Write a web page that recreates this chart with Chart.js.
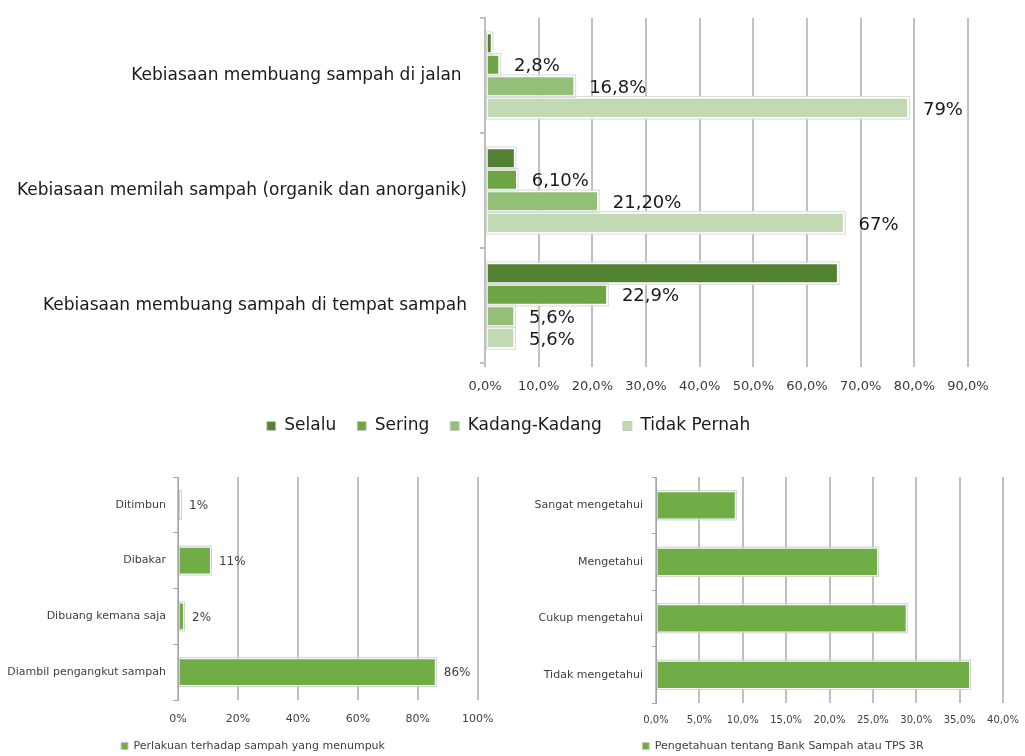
<!DOCTYPE html>
<html lang="id">
<head>
    <meta charset="UTF-8">
    <title>Kebiasaan dan Pengetahuan tentang Sampah</title>
    <script src="https://cdn.jsdelivr.net/npm/chart.js"></script>
    <style>
        body {
            margin: 0;
            background: #fff;
            width: 1025px;
            height: 756px;
            overflow: hidden;
            position: relative;
        }
        canvas {
            position: absolute;
        }
        #habitChart { left: 0; top: 0; }
        #pileChart { left: 0; top: 470px; }
        #knowChart { left: 500px; top: 470px; }
    </style>
</head>
<body>

    <canvas id="habitChart" width="1017" height="460"></canvas>
    <canvas id="pileChart" width="506" height="300"></canvas>
    <canvas id="knowChart" width="566" height="300"></canvas>

    <script>
        // top chart: kebiasaan
        const habitCats = [
            'Kebiasaan membuang sampah di jalan ',
            'Kebiasaan memilah sampah (organik dan anorganik)',
            'Kebiasaan membuang sampah di tempat sampah'
        ];
        const selalu = [1.4, 5.7, 65.9];
        const sering = [2.8, 6.1, 22.9];
        const kadang = [16.8, 21.2, 5.6];
        const tidakPernah = [79, 67, 5.6];
        const seringLbl = ['2,8%', '6,10%', '22,9%'];
        const kadangLbl = ['16,8%', '21,20%', '5,6%'];
        const tidakLbl = ['79%', '67%', '5,6%'];
        const habitTicks = ['0,0%', '10,0%', '20,0%', '30,0%', '40,0%', '50,0%', '60,0%', '70,0%', '80,0%', '90,0%'];

        // bottom left: perlakuan terhadap sampah yang menumpuk
        const pileCats = ['Ditimbun', 'Dibakar', 'Dibuang kemana saja', 'Diambil pengangkut sampah'];
        const pileVals = [1, 11, 2, 86];
        const pileLbl = ['1%', '11%', '2%', '86%'];
        const pileTicks = ['0%', '20%', '40%', '60%', '80%', '100%'];

        // bottom right: pengetahuan tentang bank sampah
        const knowCats = ['Sangat mengetahui', 'Mengetahui', 'Cukup mengetahui', 'Tidak mengetahui'];
        const knowVals = [9.2, 25.6, 28.9, 36.2];
        const knowTicks = ['0,0%', '5,0%', '10,0%', '15,0%', '20,0%', '25,0%', '30,0%', '35,0%', '40,0%'];

        Chart.defaults.font.family = '"DejaVu Sans", Verdana, sans-serif';

        // thin grey frame round each bar + value labels next to the bar ends
        const barLabels = {
            id: 'barLabels',
            afterDatasetsDraw(chart, args, opts) {
                const ctx = chart.ctx;
                ctx.save();
                ctx.strokeStyle = opts.outline || '#d6d6d6';
                ctx.lineWidth = 1;
                chart.data.datasets.forEach((ds, i) => {
                    chart.getDatasetMeta(i).data.forEach(bar => {
                        const { x, y, base, height } = bar.getProps(['x', 'y', 'base', 'height'], true);
                        ctx.strokeRect(base + 0.5, y - height / 2 - 0.5, x - base, height + 1);
                    });
                });
                ctx.font = opts.font;
                ctx.fillStyle = opts.color;
                ctx.textAlign = 'left';
                ctx.textBaseline = 'middle';
                chart.data.datasets.forEach((ds, i) => {
                    if (!ds.valueLabels) return;
                    chart.getDatasetMeta(i).data.forEach((bar, j) => {
                        ctx.fillText(ds.valueLabels[j], bar.x + opts.offset, bar.y + opts.dy);
                    });
                });
                ctx.restore();
            }
        };

        function legendItems(ch) {
            return Chart.defaults.plugins.legend.labels.generateLabels(ch)
                .map(it => Object.assign(it, { strokeStyle: '#c8c8c8', lineWidth: 1 }));
        }

        // fixed axis width, no extra label padding above/below
        function fixWidth(w) {
            return s => { s.width = w; s.paddingTop = 0; s.paddingBottom = 0; };
        }

        // empty axis on the right, only keeps space so the legend sits centred like the original
        function spacer(w) {
            return {
                position: 'right',
                ticks: { display: false },
                grid: { display: false },
                border: { display: false },
                afterFit: fixWidth(w)
            };
        }

        new Chart(document.getElementById('habitChart'), {
            type: 'bar',
            data: {
                labels: habitCats,
                datasets: [
                    { label: 'Selalu', data: selalu, backgroundColor: '#548235' },
                    { label: 'Sering', data: sering, backgroundColor: '#6ca544', valueLabels: seringLbl },
                    { label: 'Kadang-Kadang', data: kadang, backgroundColor: '#93bf78', valueLabels: kadangLbl },
                    { label: 'Tidak Pernah', data: tidakPernah, backgroundColor: '#c1d9b5', valueLabels: tidakLbl }
                ]
            },
            options: {
                indexAxis: 'y',
                responsive: false,
                animation: false,
                datasets: {
                    bar: { borderColor: '#fff', borderWidth: 1.75, borderSkipped: false, categoryPercentage: 0.75, barPercentage: 1 }
                },
                layout: { padding: { top: 18, right: 0, bottom: 15.5, left: 0 } },
                scales: {
                    x: {
                        min: 0, max: 90,
                        ticks: { stepSize: 10, callback: (v, i) => habitTicks[i], color: '#3a3a3a', font: { size: 13 }, padding: 12, maxRotation: 0 },
                        grid: { color: '#c0c0c0', lineWidth: 2, tickLength: 4 },
                        border: { display: false },
                        afterFit: s => { s.height = 33.5; }
                    },
                    y: {
                        ticks: { color: '#1a1a1a', font: { size: 17 }, padding: 13 },
                        grid: { drawOnChartArea: false, color: '#bfbfbf', lineWidth: 2, tickLength: 5 },
                        border: { color: '#bfbfbf', width: 2 },
                        afterFit: fixWidth(485)
                    },
                    pad: spacer(49)
                },
                plugins: {
                    legend: {
                        position: 'bottom',
                        labels: { boxWidth: 9, boxHeight: 9, padding: 21, color: '#1a1a1a', font: { size: 17 }, generateLabels: legendItems }
                    },
                    tooltip: { enabled: false },
                    barLabels: { font: '18px "DejaVu Sans"', color: '#1a1a1a', offset: 14, dy: 2, outline: '#dadada' }
                }
            },
            plugins: [barLabels]
        });

        new Chart(document.getElementById('pileChart'), {
            type: 'bar',
            data: {
                labels: pileCats,
                datasets: [
                    { label: 'Perlakuan terhadap sampah yang menumpuk', data: pileVals, backgroundColor: '#70ad47', valueLabels: pileLbl }
                ]
            },
            options: {
                indexAxis: 'y',
                responsive: false,
                animation: false,
                datasets: {
                    bar: { borderColor: '#fff', borderWidth: 1, borderSkipped: false, categoryPercentage: 0.5, barPercentage: 1 }
                },
                layout: { padding: { top: 7, right: 0, bottom: 8.5, left: 0 } },
                scales: {
                    x: {
                        min: 0, max: 100,
                        ticks: { stepSize: 20, callback: (v, i) => pileTicks[i], color: '#404040', font: { size: 11 }, padding: 12.5, maxRotation: 0 },
                        grid: { color: '#bfbfbf', lineWidth: 2, drawTicks: false },
                        border: { display: false },
                        afterFit: s => { s.height = 30.5; }
                    },
                    y: {
                        ticks: { color: '#404040', font: { size: 11 }, padding: 7 },
                        grid: { drawOnChartArea: false, color: '#a6a6a6', lineWidth: 1, tickLength: 5 },
                        border: { color: '#a6a6a6', width: 1 },
                        afterFit: fixWidth(178)
                    },
                    pad: spacer(28)
                },
                plugins: {
                    legend: {
                        position: 'bottom',
                        labels: { boxWidth: 7, boxHeight: 7, padding: 10, color: '#404040', font: { size: 11 }, generateLabels: legendItems }
                    },
                    tooltip: { enabled: false },
                    barLabels: { font: '12px "DejaVu Sans"', color: '#404040', offset: 8, dy: 1, outline: '#d0d0d0' }
                }
            },
            plugins: [barLabels]
        });

        new Chart(document.getElementById('knowChart'), {
            type: 'bar',
            data: {
                labels: knowCats,
                datasets: [
                    { label: 'Pengetahuan tentang Bank Sampah atau TPS 3R', data: knowVals, backgroundColor: '#70ad47' }
                ]
            },
            options: {
                indexAxis: 'y',
                responsive: false,
                animation: false,
                datasets: {
                    bar: { borderColor: '#fff', borderWidth: 1, borderSkipped: false, categoryPercentage: 0.5, barPercentage: 1 }
                },
                layout: { padding: { top: 7, right: 0, bottom: 8.5, left: 0 } },
                scales: {
                    x: {
                        min: 0, max: 40,
                        ticks: { stepSize: 5, callback: (v, i) => knowTicks[i], color: '#404040', font: { size: 10 }, padding: 11, maxRotation: 0 },
                        grid: { color: '#bfbfbf', lineWidth: 2, drawTicks: false },
                        border: { display: false },
                        afterFit: s => { s.height = 27.5; }
                    },
                    y: {
                        ticks: { color: '#404040', font: { size: 11 }, padding: 9 },
                        grid: { drawOnChartArea: false, color: '#a6a6a6', lineWidth: 1, tickLength: 4 },
                        border: { color: '#a6a6a6', width: 1 },
                        afterFit: fixWidth(156)
                    },
                    pad: spacer(63)
                },
                plugins: {
                    legend: {
                        position: 'bottom',
                        labels: { boxWidth: 7, boxHeight: 7, padding: 10, color: '#404040', font: { size: 11 }, generateLabels: legendItems }
                    },
                    tooltip: { enabled: false },
                    barLabels: { font: '12px "DejaVu Sans"', color: '#404040', offset: 8, dy: 1, outline: '#d0d0d0' }
                }
            },
            plugins: [barLabels]
        });
    </script>

</body>
</html>
